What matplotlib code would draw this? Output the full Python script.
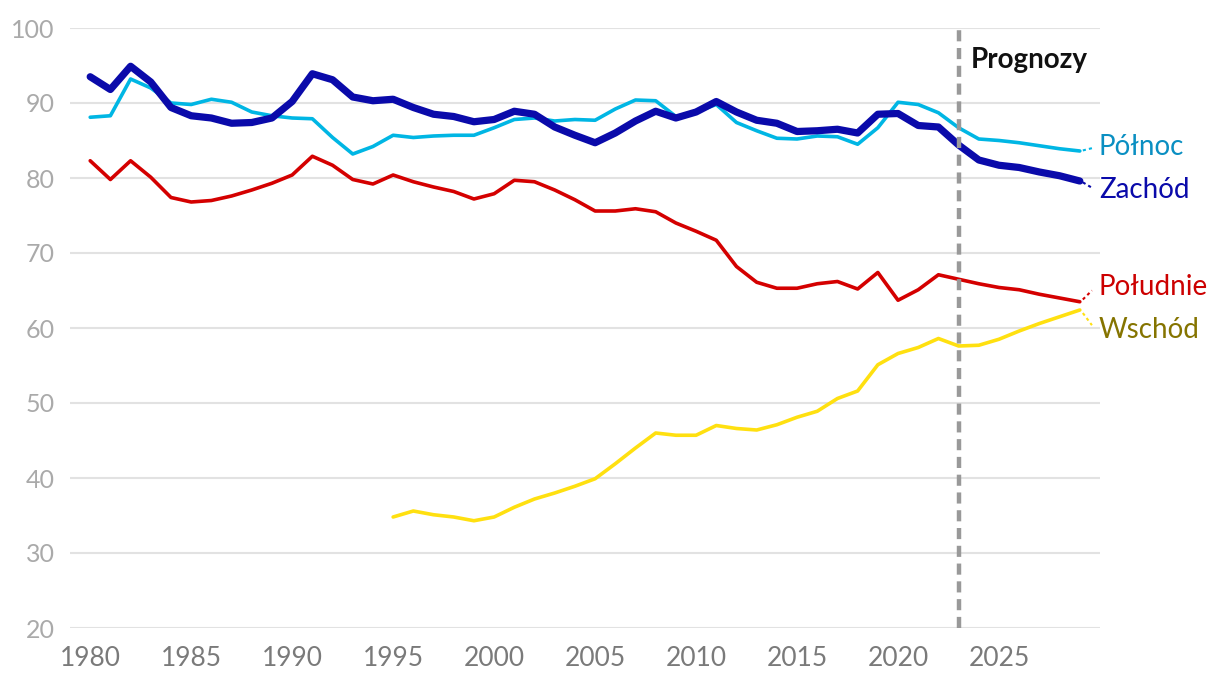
import matplotlib
matplotlib.use("Agg")
import matplotlib.pyplot as plt
import numpy as np

plt.rcParams['font.family'] = ['Lato', 'DejaVu Sans']

years_main = list(range(1980, 2030))
years_east = list(range(1995, 2030))

zachod = [93.5, 91.8, 94.9, 92.8, 89.4, 88.3, 88.0, 87.3, 87.4, 88.0,
          90.2, 93.9, 93.1, 90.8, 90.3, 90.5, 89.4, 88.5, 88.2, 87.5,
          87.8, 88.9, 88.5, 86.8, 85.7, 84.7, 86.0, 87.6, 88.9, 88.0,
          88.8, 90.2, 88.8, 87.7, 87.3, 86.2, 86.3, 86.5, 86.0, 88.5,
          88.6, 87.0, 86.8, 84.4, 82.4, 81.7, 81.4, 80.8, 80.3, 79.6]
polnoc = [88.1, 88.3, 93.2, 92.0, 90.0, 89.8, 90.5, 90.1, 88.8, 88.3,
          88.0, 87.9, 85.4, 83.2, 84.2, 85.7, 85.4, 85.6, 85.7, 85.7,
          86.7, 87.8, 88.0, 87.6, 87.8, 87.7, 89.2, 90.4, 90.3, 88.2,
          88.8, 89.8, 87.4, 86.3, 85.3, 85.2, 85.6, 85.5, 84.5, 86.7,
          90.1, 89.8, 88.7, 86.7, 85.2, 85.0, 84.7, 84.3, 83.9, 83.6]
poludnie = [82.3, 79.8, 82.3, 80.1, 77.4, 76.8, 77.0, 77.6, 78.4, 79.3,
            80.4, 82.9, 81.7, 79.8, 79.2, 80.4, 79.5, 78.8, 78.2, 77.2,
            77.9, 79.7, 79.5, 78.4, 77.1, 75.6, 75.6, 75.9, 75.5, 74.0,
            72.9, 71.7, 68.2, 66.1, 65.3, 65.3, 65.9, 66.2, 65.2, 67.4,
            63.7, 65.1, 67.1, 66.5, 65.9, 65.4, 65.1, 64.5, 64.0, 63.5]
wschod = [34.8, 35.6, 35.1, 34.8, 34.3, 34.8, 36.1, 37.2, 38.0, 38.9,
          39.9, 41.9, 44.0, 46.0, 45.7, 45.7, 47.0, 46.6, 46.4, 47.1,
          48.1, 48.9, 50.6, 51.6, 55.1, 56.6, 57.4, 58.6, 57.6, 57.7,
          58.5, 59.6, 60.6, 61.5, 62.4]

series_names = ['Północ', 'Zachód', 'Południe', 'Wschód']
label_y = [84.1, 78.4, 65.5, 59.7]
x_ticks = list(range(1980, 2030, 5))
y_ticks = list(range(20, 101, 10))
forecast_year = 2023

fig = plt.figure(figsize=(12.2, 6.84), dpi=100)
ax = fig.add_axes([70/1220, 1-628/684, 1030/1220, 600/684])

line_specs = [
    (years_main, polnoc, '#00b6e4', 2.6, '#0a8fc2'),
    (years_main, zachod, '#0a0aaa', 5.2, '#0a0aaa'),
    (years_main, poludnie, '#d40000', 2.6, '#cc0000'),
    (years_east, wschod, '#ffe010', 2.6, '#857400'),
]

for (xs, ys, col, lw, lcol), name, ly in zip(line_specs, series_names, label_y):
    ax.plot(xs, ys, color=col, lw=lw, solid_capstyle='round', solid_joinstyle='round', zorder=3)
    ax.plot([xs[-1] + 0.15, xs[-1] + 0.6], [ys[-1] + (ly - ys[-1]) * 0.15, ys[-1] + (ly - ys[-1]) * 0.75],
            color=col, lw=1.5, ls=(0, (1.5, 1.5)), clip_on=False, zorder=3)
    ax.text(xs[-1] + 0.95, ly, name, color=lcol, fontsize=20, va='center', ha='left', clip_on=False)

ax.axvline(forecast_year, color='#999999', lw=3.2, ls=(0, (2.5, 1.5)), zorder=4)
ax.text(forecast_year + 0.6, 95.7, 'Prognozy', fontsize=20, fontweight='bold', color='#111111',
        va='center', ha='left')

ax.set_xlim(1979, 2030)
ax.set_ylim(20, 100)
ax.set_xticks(x_ticks)
ax.set_yticks(y_ticks)
ax.grid(axis='y', color='#e2e2e2', lw=1.5, zorder=0)
ax.grid(axis='x', visible=False)
for s in ax.spines.values():
    s.set_visible(False)
ax.tick_params(axis='both', length=0)
ax.tick_params(axis='y', labelsize=18, labelcolor='#aaaaaa', pad=11)
ax.tick_params(axis='x', labelsize=19, labelcolor='#7a7a7a', pad=13)

fig.savefig('out.png', dpi=100)
